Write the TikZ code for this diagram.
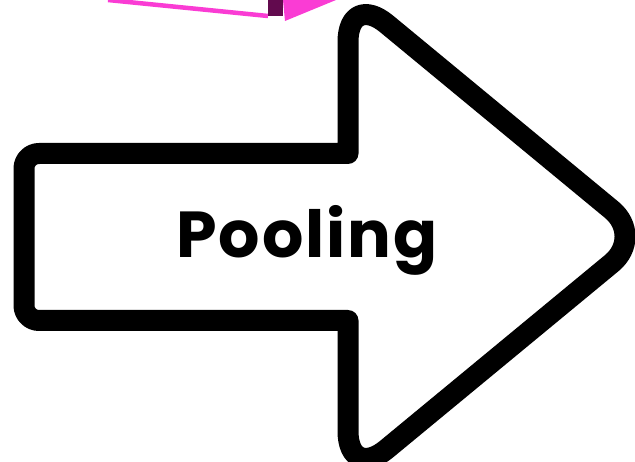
\documentclass[tikz,border=0pt]{standalone}
\usepackage{fontspec}
\newfontfamily\labelfont{Poppins}[LetterSpace=3]
\definecolor{plotpink}{RGB}{250,60,212}
\definecolor{plotdark}{RGB}{98,10,78}
\begin{document}
\begin{tikzpicture}[x=1pt,y=-1pt,
  arrowline/.style={draw=black, fill=white, line width=21pt, line join=round},
  labeltext/.style={font=\labelfont\bfseries\fontsize{65}{65}\selectfont, anchor=base, inner sep=0pt}]
\useasboundingbox (0,0) rectangle (635,462);
% lower edge of a magenta plot that runs off the top
\draw[plotpink, line width=4.5pt] (108,0) -- (268,16);
\fill[plotpink] (283,0) -- (336,0) -- (285,21) -- cycle;
\fill[plotdark] (268,0) rectangle (283,16);
% block arrow outline; the option before each point sets how far
% that corner is cut back along its two sides
\draw[arrowline] (24,236.5) [rounded corners=15pt] -- (24,153.5)
  [sharp corners] -- (348,153.5) [rounded corners=50pt] -- (348,-8)
  [rounded corners=42pt] -- (644,236.5) [rounded corners=50pt] -- (348,481)
  [sharp corners] -- (348,320.5) [rounded corners=15pt] -- (24,320.5) -- cycle;
\node[labeltext] (label) at (307,258) {Pooling};
\end{tikzpicture}
\end{document}
